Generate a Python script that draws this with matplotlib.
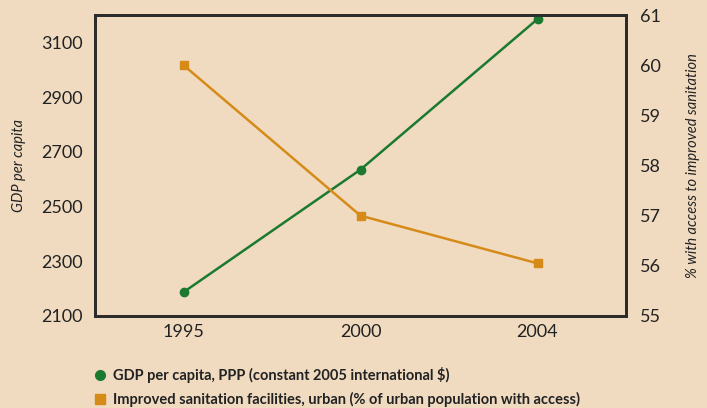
import matplotlib
matplotlib.use("Agg")
import matplotlib.pyplot as plt
from matplotlib.lines import Line2D

years = ["1995", "2000", "2004"]
gdp = [2187, 2635, 3185]
sanitation = [60.0, 57.0, 56.05]
gdp_ticks = [2100, 2300, 2500, 2700, 2900, 3100]
san_ticks = [55, 56, 57, 58, 59, 60, 61]
gdp_label = "GDP per capita, PPP (constant 2005 international $)"
san_label = "Improved sanitation facilities, urban (% of urban population with access)"

bg = "#F0DBC1"
green = "#1B7A30"
orange = "#D68B18"
dark = "#2B2B2B"

plt.rcParams['font.family'] = ['Lato', 'DejaVu Sans']

fig = plt.figure(figsize=(7.07, 4.08), dpi=100, facecolor=bg)
ax = fig.add_axes([95/707, 1-316/408, (626-95)/707, (316-15)/408])
ax.set_facecolor(bg)
x = list(range(len(years)))
ax.plot(x, gdp, color=green, lw=1.8, marker='o', ms=6, zorder=3)
ax.set_xlim(-0.5, len(years)-0.5)
ax.set_ylim(2100, 3200)
ax.set_yticks(gdp_ticks)
ax.set_xticks(x)
ax.set_xticklabels(years)
ax.tick_params(axis='y', length=0, labelsize=13, colors='#222222', pad=9)
ax.tick_params(axis='x', length=0, labelsize=13, colors='#222222', pad=6)
ax.set_ylabel("GDP per capita", fontsize=10.5, style='italic', color='#222222', labelpad=11)
for s in ax.spines.values():
    s.set_color(dark)
    s.set_linewidth(2)

ax2 = ax.twinx()
ax2.plot(x, sanitation, color=orange, lw=1.8, marker='s', ms=6, zorder=3)
ax2.set_ylim(55, 61)
ax2.set_yticks(san_ticks)
ax2.tick_params(axis='both', length=0, labelsize=13, colors='#222222', pad=10)
ax2.set_ylabel("% with access to improved sanitation", fontsize=10.5, style='italic', color='#222222', labelpad=18)
for s in ax2.spines.values():
    s.set_color(dark)
    s.set_linewidth(2)

handles = [Line2D([], [], color=green, marker='o', ls='none', ms=7),
           Line2D([], [], color=orange, marker='s', ls='none', ms=7)]
leg = fig.legend(handles, [gdp_label, san_label], loc='upper left',
                 bbox_to_anchor=(85/707, 1-361/408), frameon=False,
                 prop={'weight': 'bold', 'size': 10.5}, handletextpad=0.3,
                 labelspacing=0.65, handlelength=1.2, borderaxespad=0)
for t in leg.get_texts():
    t.set_color('#222222')

fig.savefig("out.png", dpi=100, facecolor=bg)
